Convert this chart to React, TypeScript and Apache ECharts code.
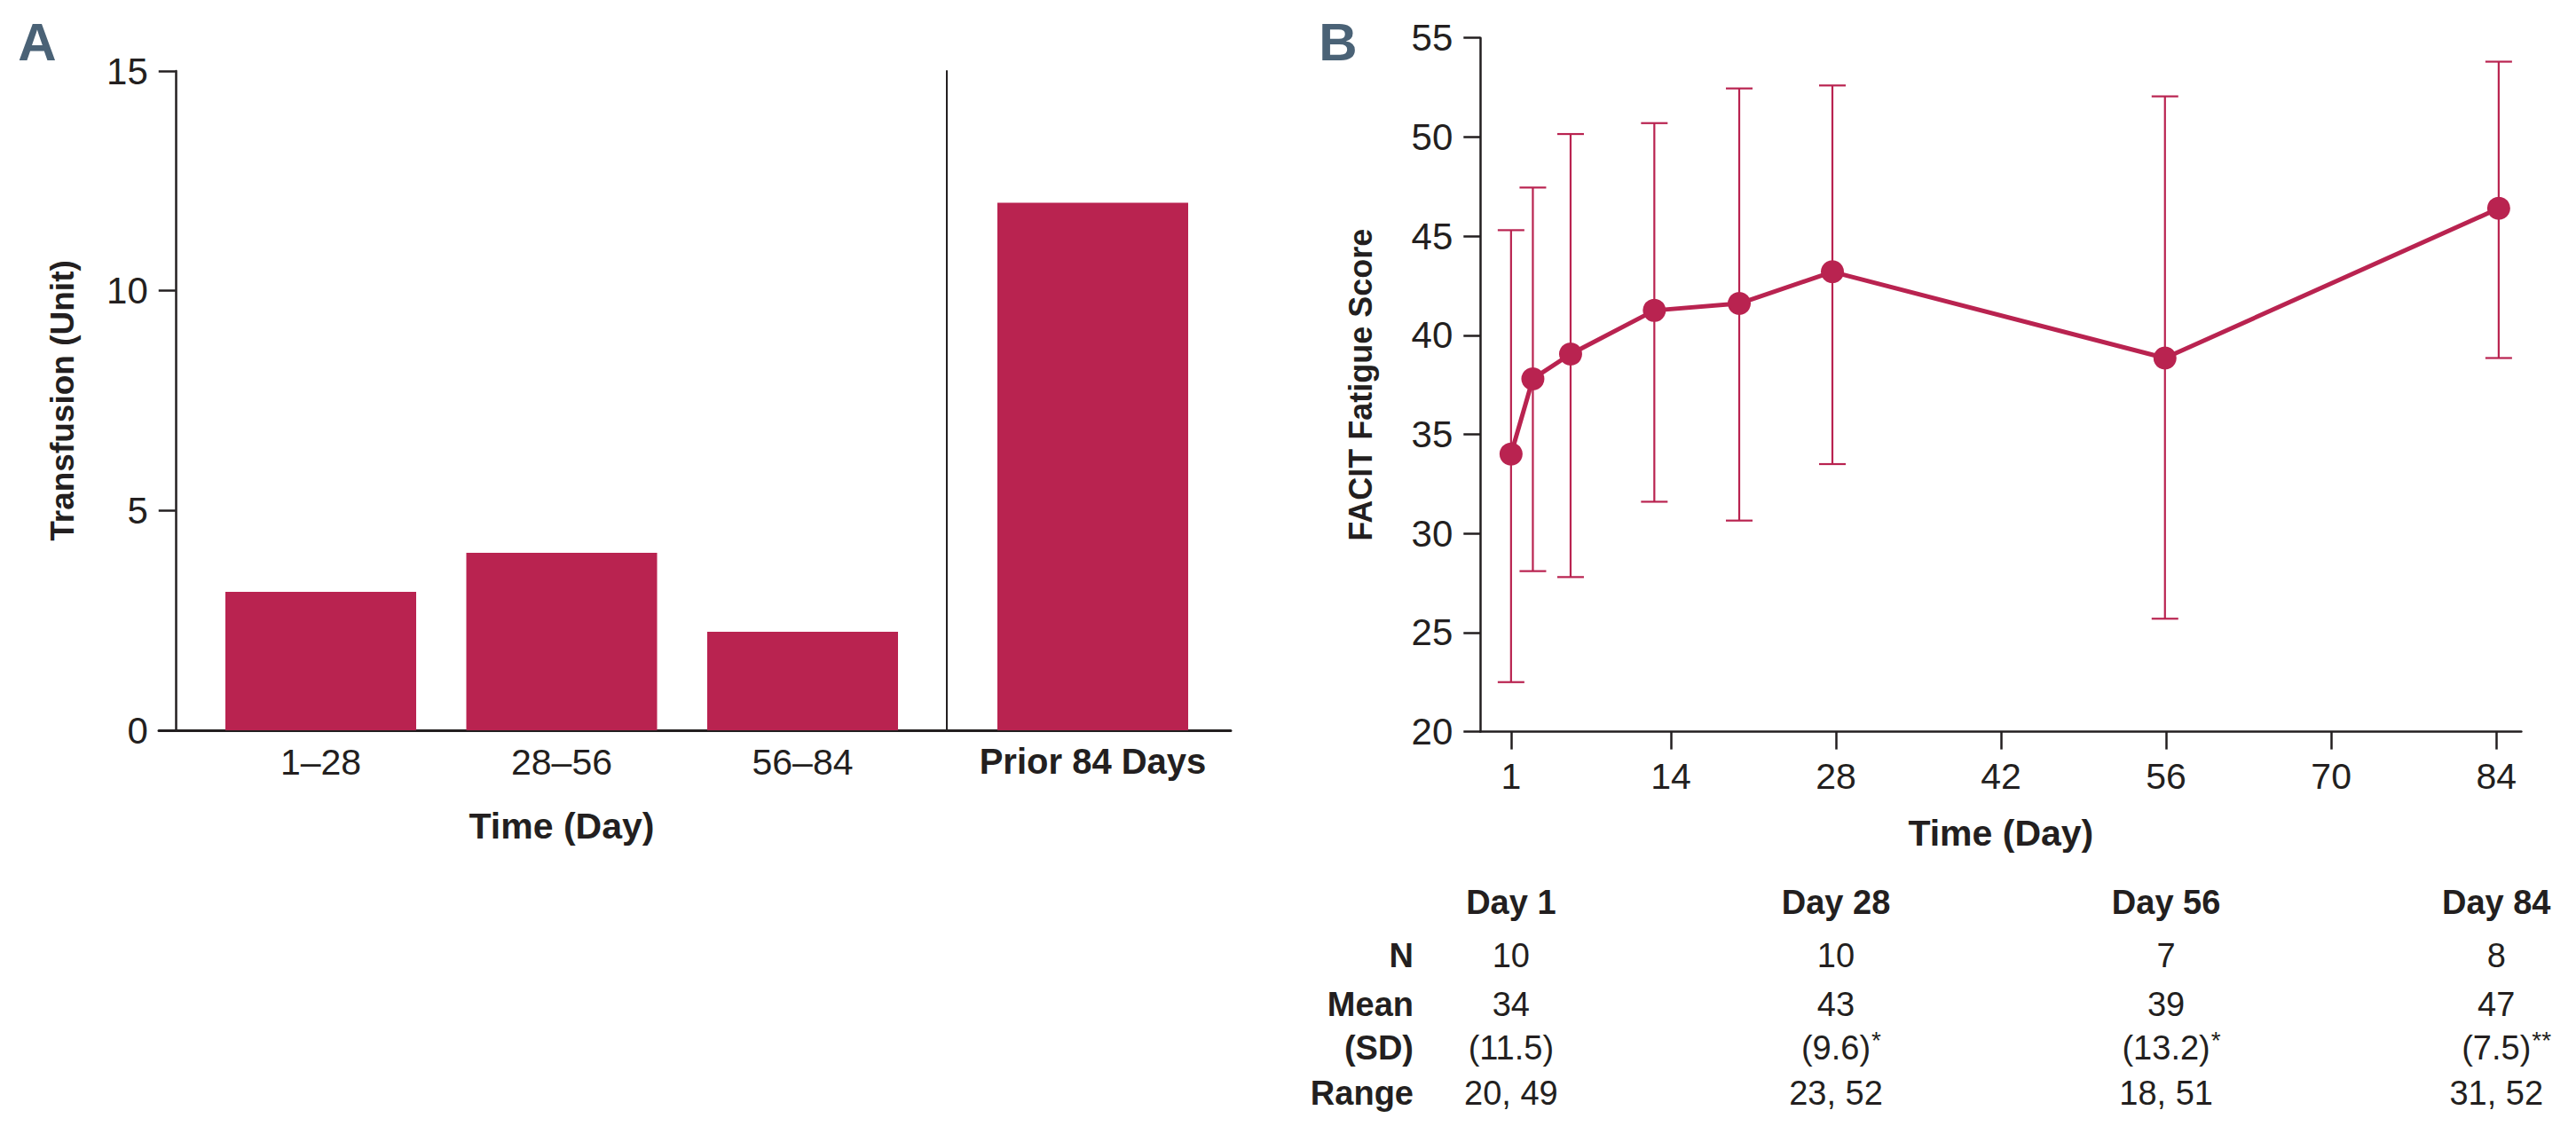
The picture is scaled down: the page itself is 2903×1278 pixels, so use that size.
import React, { useEffect, useRef } from "react";
import * as echarts from "echarts";

// ---------- data ----------
const periodCategories = ["1–28", "28–56", "56–84"];
const periodUnits = [3.15, 4.04, 2.24];
const priorCategory = ["Prior 84 Days"];
const priorUnits = [12];

const visitX = [0.45, 2.3, 5.5, 12.6, 19.8, 27.7, 55.9, 84.2];
const meanScore = [34.0, 37.8, 39.05, 41.25, 41.6, 43.2, 38.85, 46.4];
const sdLow = [22.5, 28.1, 27.8, 31.6, 30.65, 33.5, 25.7, 38.85];
const sdHigh = [45.3, 47.45, 50.15, 50.7, 52.45, 52.6, 52.05, 53.8];

const dayTickValues = [0.45, 14, 28, 42, 56, 70, 84];
const dayTickLabels = ["1", "14", "28", "42", "56", "70", "84"];

const tableColumnX = [0.45, 28, 56, 84];
const tableHeaders = ["Day 1", "Day 28", "Day 56", "Day 84"];
const tableN = ["10", "10", "7", "8"];
const tableMean = ["34", "43", "39", "47"];
const tableSD = ["(11.5)", "(9.6)", "(13.2)", "(7.5)"];
const tableSDMark = ["", "*", "*", "**"];
const tableRange = ["20, 49", "23, 52", "18, 51", "31, 52"];

// ---------- styles ----------
const FONT = "'Liberation Sans', Arial, Helvetica, sans-serif";
const RED = "#B92350";
const INK = "#231F20";
const LETTER = "#4A6276";

export default function App() {
  const ref = useRef<HTMLDivElement>(null);

  useEffect(() => {
    document.body.style.margin = "0";
    if (!ref.current) return;
    const chart = echarts.init(ref.current, null, { renderer: "svg" });

    const option: any = {
      animation: false,
      backgroundColor: "#ffffff",
      textStyle: { fontFamily: FONT, color: INK },
      grid: [
        { left: 179, width: 1208, top: 80, bottom: 455 },
        { left: 225.75, width: 814.5, top: 80, bottom: 455 },
        { left: 1067, width: 329, top: 80, bottom: 455 },
        { left: 1668.3, right: 61.6, top: 42.7, bottom: 453.4 },
      ],
      xAxis: [
        {
          gridIndex: 0,
          type: "value",
          min: 0,
          max: 1,
          axisLine: { show: true, onZero: false, lineStyle: { color: INK, width: 3 } },
          axisTick: { show: false },
          axisLabel: { show: false },
          splitLine: { show: false },
        },
        {
          gridIndex: 1,
          type: "category",
          data: periodCategories,
          axisLine: { show: false },
          axisTick: { show: false },
          axisLabel: { fontSize: 41, color: INK, margin: 15, fontFamily: FONT },
          name: "Time (Day)",
          nameLocation: "middle",
          nameGap: 87,
          nameTextStyle: { fontSize: 41, fontWeight: "bold", color: INK, fontFamily: FONT },
        },
        {
          gridIndex: 2,
          type: "category",
          data: priorCategory,
          axisLine: { show: false },
          axisTick: { show: false },
          axisLabel: { fontSize: 40, fontWeight: "bold", color: INK, margin: 15, fontFamily: FONT },
        },
        {
          gridIndex: 3,
          type: "value",
          min: -2.15,
          max: 86.12,
          axisLine: { show: true, onZero: false, lineStyle: { color: INK, width: 2.5 } },
          axisTick: {
            show: true,
            length: 20,
            lineStyle: { color: INK, width: 2.5 },
            customValues: dayTickValues,
          },
          axisLabel: {
            fontSize: 41,
            color: INK,
            margin: 30,
            fontFamily: FONT,
            customValues: dayTickValues,
            formatter: (v: number) => {
              const i = dayTickValues.findIndex((t) => Math.abs(t - v) < 0.01);
              return i >= 0 ? dayTickLabels[i] : "";
            },
          },
          splitLine: { show: false },
          name: "Time (Day)",
          nameLocation: "middle",
          nameGap: 94,
          nameTextStyle: { fontSize: 41, fontWeight: "bold", color: INK, fontFamily: FONT },
        },
      ],
      yAxis: [
        { gridIndex: 0, type: "value", min: 0, max: 15, show: false },
        {
          gridIndex: 1,
          type: "value",
          min: 0,
          max: 15,
          interval: 5,
          offset: 28,
          axisLine: { show: true, onZero: false, lineStyle: { color: INK, width: 2.5 } },
          axisTick: { show: true, length: 19, lineStyle: { color: INK, width: 2.5 } },
          axisLabel: { fontSize: 42, color: INK, margin: 31, fontFamily: FONT },
          splitLine: { show: false },
          name: "Transfusion (Unit)",
          nameLocation: "middle",
          nameGap: 109,
          nameTextStyle: { fontSize: 37, fontWeight: "bold", color: INK, fontFamily: FONT },
        },
        {
          gridIndex: 2,
          type: "value",
          min: 0,
          max: 15,
          interval: 5,
          axisLine: { show: true, onZero: false, lineStyle: { color: INK, width: 2 } },
          axisTick: { show: false },
          axisLabel: { show: false },
          splitLine: { show: false },
        },
        {
          gridIndex: 3,
          type: "value",
          min: 20,
          max: 55,
          interval: 5,
          axisLine: { show: true, onZero: false, lineStyle: { color: INK, width: 2.5 } },
          axisTick: { show: true, length: 19, lineStyle: { color: INK, width: 2.5 } },
          axisLabel: { fontSize: 42, color: INK, margin: 31, fontFamily: FONT },
          splitLine: { show: false },
          name: "FACIT Fatigue Score",
          nameLocation: "middle",
          nameGap: 117,
          nameTextStyle: { fontSize: 36, fontWeight: "bold", color: INK, fontFamily: FONT },
        },
      ],
      series: [
        {
          type: "bar",
          xAxisIndex: 1,
          yAxisIndex: 1,
          data: periodUnits,
          barWidth: 215,
          itemStyle: { color: RED },
          silent: true,
        },
        {
          type: "bar",
          xAxisIndex: 2,
          yAxisIndex: 2,
          data: priorUnits,
          barWidth: 215,
          itemStyle: { color: RED },
          silent: true,
        },
        {
          type: "custom",
          xAxisIndex: 3,
          yAxisIndex: 3,
          data: visitX.map((x, i) => [x, sdLow[i], sdHigh[i]]),
          encode: { x: 0, y: [1, 2] },
          z: 2,
          silent: true,
          renderItem: (_params: any, api: any) => {
            const x = api.value(0);
            const pLo = api.coord([x, api.value(1)]);
            const pHi = api.coord([x, api.value(2)]);
            const hw = 15;
            const style = { stroke: RED, lineWidth: 2.2, fill: "none" };
            return {
              type: "group",
              children: [
                { type: "line", shape: { x1: pHi[0], y1: pHi[1], x2: pLo[0], y2: pLo[1] }, style },
                { type: "line", shape: { x1: pHi[0] - hw, y1: pHi[1], x2: pHi[0] + hw, y2: pHi[1] }, style },
                { type: "line", shape: { x1: pLo[0] - hw, y1: pLo[1], x2: pLo[0] + hw, y2: pLo[1] }, style },
              ],
            };
          },
        },
        {
          type: "line",
          xAxisIndex: 3,
          yAxisIndex: 3,
          data: visitX.map((x, i) => [x, meanScore[i]]),
          symbol: "circle",
          symbolSize: 26,
          z: 3,
          silent: true,
          lineStyle: { color: RED, width: 5 },
          itemStyle: { color: RED },
        },
      ],
    };

    chart.setOption(option);

    // ---------- table + panel letters ----------
    const canvas = document.createElement("canvas");
    const ctx = canvas.getContext("2d");
    const measure = (t: string, size: number, weight = "normal") => {
      if (!ctx) return t.length * size * 0.5;
      ctx.font = `${weight} ${size}px ${FONT}`;
      return ctx.measureText(t).width;
    };

    const txt = (
      text: string,
      x: number,
      y: number,
      size: number,
      weight: string,
      align: string,
      color = INK
    ) => ({
      type: "text",
      x,
      y,
      silent: true,
      style: {
        text,
        fontSize: size,
        fontWeight: weight,
        fontFamily: FONT,
        fill: color,
        align,
        textAlign: align,
        verticalAlign: "middle",
        textVerticalAlign: "middle",
      },
    });

    const cols = tableColumnX.map((v) => chart.convertToPixel({ xAxisIndex: 3 }, v) as number);
    const rowY = { head: 1017, n: 1077, mean: 1132, sd: 1181, range: 1232 };
    const labelRight = 1593;
    const TS = 38;

    const graphics: any[] = [
      txt("A", 42, 47, 60, "bold", "center", LETTER),
      txt("B", 1508, 47, 60, "bold", "center", LETTER),
      txt("N", labelRight, rowY.n, TS, "bold", "right"),
      txt("Mean", labelRight, rowY.mean, TS, "bold", "right"),
      txt("(SD)", labelRight, rowY.sd, TS, "bold", "right"),
      txt("Range", labelRight, rowY.range, TS, "bold", "right"),
    ];
    cols.forEach((cx, i) => {
      graphics.push(txt(tableHeaders[i], cx, rowY.head, TS, "bold", "center"));
      graphics.push(txt(tableN[i], cx, rowY.n, TS, "normal", "center"));
      graphics.push(txt(tableMean[i], cx, rowY.mean, TS, "normal", "center"));
      graphics.push(txt(tableSD[i], cx, rowY.sd, TS, "normal", "center"));
      if (tableSDMark[i]) {
        const w = measure(tableSD[i], TS);
        graphics.push(txt(tableSDMark[i], cx + w / 2 + 1, rowY.sd - 9, 28, "normal", "left"));
      }
      graphics.push(txt(tableRange[i], cx, rowY.range, TS, "normal", "center"));
    });

    chart.setOption({ graphic: graphics });

    return () => chart.dispose();
  }, []);

  return <div ref={ref} style={{ width: 2903, height: 1278 }} />;
}
